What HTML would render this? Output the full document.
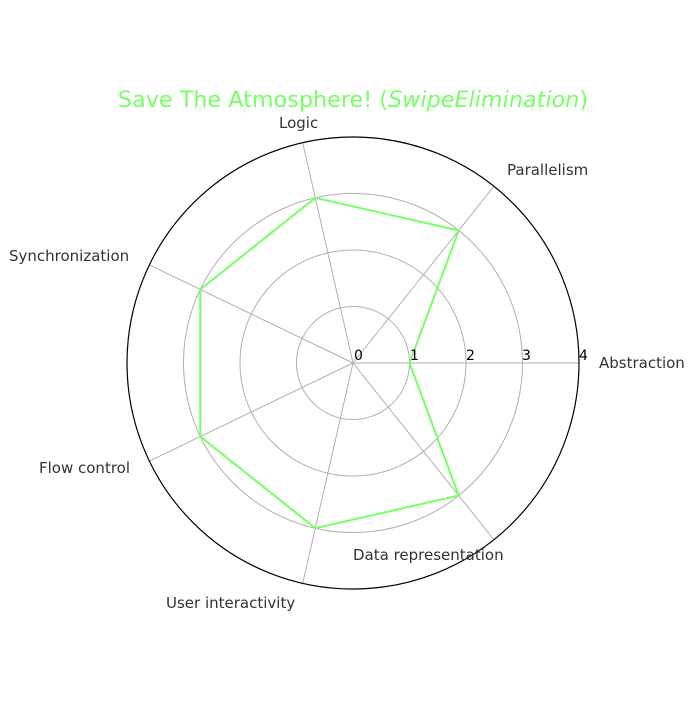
<!DOCTYPE html>
<html><head><meta charset="utf-8"><style>html,body{margin:0;padding:0;background:#fff;}</style></head>
<body>
<svg width="700" height="700" xmlns="http://www.w3.org/2000/svg" style="font-family:'DejaVu Sans','Liberation Sans',sans-serif">
<rect width="700" height="700" fill="#fff"/>
<g stroke="#b0b0b0" stroke-width="1" fill="none">
<circle cx="353" cy="363" r="56.5"/>
<circle cx="353" cy="363" r="113"/>
<circle cx="353" cy="363" r="169.5"/>
<line x1="353" y1="363" x2="579" y2="363"/>
<line x1="353" y1="363" x2="493.9" y2="186.3"/>
<line x1="353" y1="363" x2="302.7" y2="142.7"/>
<line x1="353" y1="363" x2="149.4" y2="264.9"/>
<line x1="353" y1="363" x2="149.4" y2="461.1"/>
<line x1="353" y1="363" x2="302.7" y2="583.3"/>
<line x1="353" y1="363" x2="493.9" y2="539.7"/>
</g>
<circle cx="353" cy="363" r="226" fill="none" stroke="#000" stroke-width="1.2"/>
<polygon points="409.5,363 458.7,230.5 315.3,197.8 200.3,289.5 200.3,436.5 315.3,528.2 458.7,495.5" fill="none" stroke="#77ff66" stroke-width="2"/>
<g font-size="14" fill="#000">
<text x="354" y="360">0</text>
<text x="410" y="360">1</text>
<text x="466" y="360">2</text>
<text x="522" y="360">3</text>
<text x="579" y="360">4</text>
</g>
<g font-size="15" fill="#333">
<text x="599" y="368">Abstraction</text>
<text x="507" y="175">Parallelism</text>
<text x="279" y="128">Logic</text>
<text x="9" y="261">Synchronization</text>
<text x="39" y="473">Flow control</text>
<text x="166" y="608">User interactivity</text>
<text x="353" y="560">Data representation</text>
</g>
<text x="353" y="107" font-size="22.3" fill="#77ff66" text-anchor="middle">Save The Atmosphere! (<tspan font-style="italic">SwipeElimination</tspan>)</text>
</svg>
</body></html>
